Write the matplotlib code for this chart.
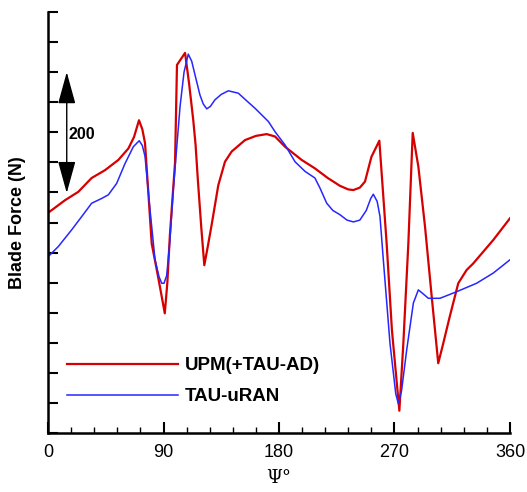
import matplotlib
matplotlib.use("Agg")
import matplotlib.pyplot as plt
from matplotlib.ticker import MultipleLocator

# azimuth (deg) and blade force (N)
upm_psi = [0, 13.2, 23.6, 34, 44.4, 54.8, 62.6, 67, 70.9, 73.5, 75.6, 78.2, 80.8,
           84.7, 88, 91, 93, 95, 99, 100.5, 106.8, 110, 113.2, 115, 116.8, 119.5,
           121.8, 124.5, 127.5, 132.7, 137.9, 143.1, 153.5, 162, 170.4, 176.9,
           184.7, 197.7, 208, 218, 227.5, 234, 238, 243, 247, 252, 258.2, 263.9,
           268, 273.8, 276.9, 280.8, 284.2, 288.6, 293.8, 299, 304.1, 308, 313,
           319.7, 326.2, 331.4, 339, 347, 360]
upm_force = [366, 387, 401, 424, 437, 454, 473, 492, 520, 505, 482, 399, 315,
             272, 234, 199, 250, 330, 450, 612, 632, 580, 520, 479, 420, 340,
             279, 310, 346, 412, 451, 468, 487, 494, 497, 493,
             476, 454, 440, 424, 411, 405, 404, 408, 418, 459, 486, 315,
             171, 37, 149, 315, 499, 443, 343, 227, 116, 149, 193,
             249, 271, 282, 301, 321, 357]

uran_psi = [0, 8, 18.5, 26.3, 34, 41.8, 47, 53.5, 60, 66.5, 71.1, 73.5, 75.6,
            79.5, 83.4, 86.5, 88.6, 90.4, 92.5, 95, 97.6, 102.9, 106, 109.3, 112,
            114.6, 118.4, 121, 123.7, 126.5, 130.1, 135, 140.5, 148.3, 155, 161.3,
            171.7, 176.9, 184.7, 192.5, 200.3, 208, 212, 217.2, 222, 227.5, 233,
            238, 243, 248, 251.5, 253.5, 256.5, 258.7, 261.3, 266.5, 271, 273,
            275.5, 279.5, 284.7, 288.6, 292, 296.4, 305.5, 318.5, 334, 347, 360]
uran_force = [293, 310, 338, 360, 382, 390, 396, 415, 448, 476, 486, 478, 460,
              371, 288, 260, 249, 249, 262, 320, 404, 543, 600, 630, 618,
              595, 562, 547, 539, 543, 554, 563, 569, 565, 552, 540,
              518, 501, 479, 451, 435, 424, 407, 382, 370, 363, 354,
              351, 354, 370, 390, 397, 385, 360, 288, 149, 65, 49,
              70, 138, 216, 238, 232, 224, 224, 235, 249, 266, 288]

plt.rcParams["font.family"] = ["Liberation Sans", "DejaVu Sans"]

fig = plt.figure(figsize=(5.27, 4.92), dpi=100)
ax = fig.add_axes([0.0911, 0.1199, 0.8766, 0.8557])

ax.plot(upm_psi, upm_force, color="#d60000", lw=1.6, label="UPM(+TAU-AD)")
ax.plot(uran_psi, uran_force, color="#2626ff", lw=1.1, label="TAU-uRAN")

ax.set_xlim(0, 360)
ax.set_ylim(0, 700)
ax.set_xticks([0, 90, 180, 270, 360])
ax.xaxis.set_minor_locator(MultipleLocator(18))
ax.yaxis.set_major_locator(MultipleLocator(50))
ax.set_yticklabels([])
ax.tick_params(axis="x", which="major", direction="in", length=8, width=1.5, labelsize=13, pad=8)
ax.tick_params(axis="x", which="minor", direction="in", length=4, width=1)
ax.tick_params(axis="y", which="major", direction="in", length=7, width=1.5)

for s in ["top", "right"]:
    ax.spines[s].set_visible(False)
for s in ["left", "bottom"]:
    ax.spines[s].set_linewidth(1.8)

ax.set_xlabel("\u03a8\u00b0", fontsize=13, labelpad=6, family="DejaVu Serif")
ax.set_ylabel("Blade Force (N)", fontsize=13, fontweight="bold", labelpad=12)

# 200 N scale arrow
ax.annotate("", xy=(14.6, 600), xytext=(14.6, 399),
            arrowprops=dict(arrowstyle="<|-|>,head_length=2.0,head_width=0.55",
                            mutation_scale=10, color="black", lw=1, shrinkA=0, shrinkB=0))
ax.text(15.6, 496, "200", fontsize=11.5, fontweight="bold", va="center", ha="left")

leg = ax.legend(loc="upper left", bbox_to_anchor=(0.0415, 0.18), frameon=False,
                handlelength=5.9, handletextpad=0.37, labelspacing=0.73,
                borderaxespad=0, borderpad=0,
                prop={"size": 13.5, "weight": "bold"})

fig.savefig("out.png", dpi=100)
